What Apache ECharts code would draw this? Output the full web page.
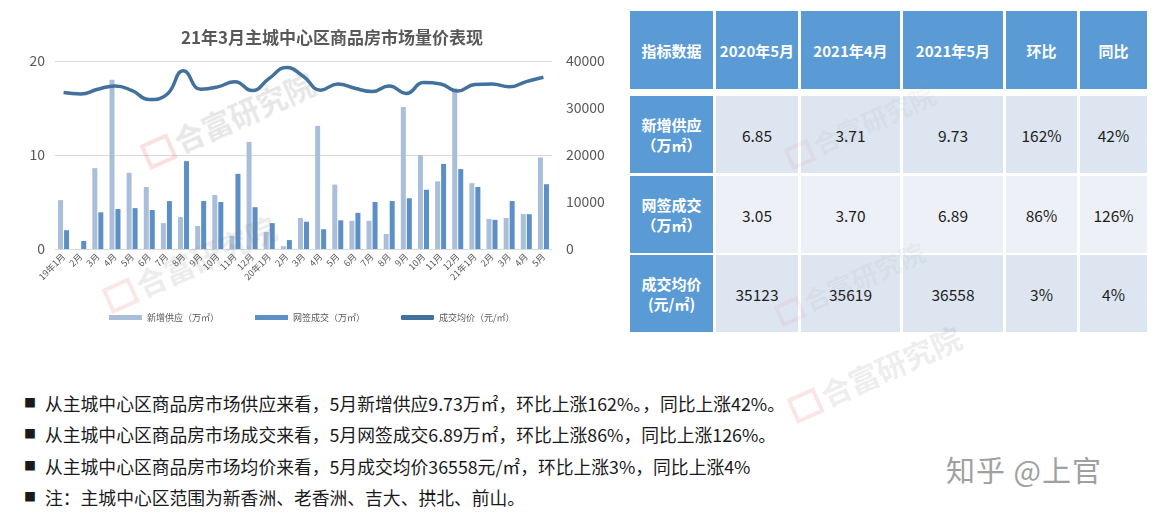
<!DOCTYPE html>
<html><head><meta charset="utf-8">
<script src="https://cdn.jsdelivr.net/npm/echarts@6/dist/echarts.min.js"></script>
<style>
html,body{margin:0;padding:0;background:#fff;width:1157px;height:514px;overflow:hidden;font-family:"Noto Sans CJK SC","Noto Sans",sans-serif;}
#chart{position:absolute;left:0;top:0;width:620px;height:345px;}
#tbl{position:absolute;left:630px;top:11px;}
.cell{position:absolute;display:flex;align-items:center;justify-content:center;text-align:center;box-sizing:border-box;}
.hd{background:#5b9bd5;color:#fff;font-weight:bold;font-size:15px;}
.lb{background:#5b9bd5;color:#fff;font-weight:bold;font-size:15px;line-height:20px;}
.dt{color:#1e1e1e;font-size:15.5px;}
.notes{position:absolute;left:24px;top:389px;font-size:17.8px;color:#1a1a1a;}
.notes div{height:31.3px;line-height:28px;white-space:nowrap;}
.notes span.b{display:inline-block;width:21px;font-size:12px;vertical-align:top;}
.wm{position:absolute;pointer-events:none;white-space:nowrap;transform-origin:center center;font-weight:bold;}
</style></head>
<body>
<div id="chart"></div>
<div id="tbl"></div>
<div class="notes" id="notes"></div>
<div id="wms"></div>
<script>
// ---- chart data ----
const categories = ['19年1月','2月','3月','4月','5月','6月','7月','8月','9月','10月','11月','12月',
  '20年1月','2月','3月','4月','5月','6月','7月','8月','9月','10月','11月','12月',
  '21年1月','2月','3月','4月','5月'];
const supply = [5.2,0,8.6,18.0,8.1,6.6,2.75,3.4,2.45,5.75,1.4,11.4,
  1.8,0.3,3.3,13.1,6.85,3.0,3.0,1.6,15.1,10.0,7.2,17.1,
  7.0,3.2,3.3,3.71,9.73];
const deals = [2.0,0.85,3.9,4.25,4.35,4.15,5.1,9.35,5.1,5.0,8.0,4.45,
  2.75,0.95,2.9,2.1,3.05,3.85,5.0,5.1,5.4,6.3,9.05,8.5,
  6.6,3.1,5.1,3.70,6.89];
const price = [33300,33000,34000,34700,33700,31800,32800,37900,34000,34500,35600,33700,
  36300,38600,36700,33800,35123,34200,33500,34700,33100,35400,35100,33600,
  35000,35100,34500,35619,36558];
const seriesNames = ['新增供应（万㎡）','网签成交（万㎡）','成交均价（元/㎡）'];
const leftTicks = [0,10,20];
const rightTicks = [0,10000,20000,30000,40000];
const chartTitle = '21年3月主城中心区商品房市场量价表现';

// ---- table data ----
const tableHeader = ['指标数据','2020年5月','2021年4月','2021年5月','环比','同比'];
const rowLabels = [['新增供应','（万㎡）'],['网签成交','（万㎡）'],['成交均价','(元/㎡)']];
const tableRows = [
  ['6.85','3.71','9.73','162%','42%'],
  ['3.05','3.70','6.89','86%','126%'],
  ['35123','35619','36558','3%','4%']
];
const notes = [
  '从主城中心区商品房市场供应来看，5月新增供应9.73万㎡，环比上涨162%。，同比上涨42%。',
  '从主城中心区商品房市场成交来看，5月网签成交6.89万㎡，环比上涨86%，同比上涨126%。',
  '从主城中心区商品房市场均价来看，5月成交均价36558元/㎡，环比上涨3%，同比上涨4%',
  '注：主城中心区范围为新香洲、老香洲、吉大、拱北、前山。'
];

// ---- chart ----
const chart = echarts.init(document.getElementById('chart'), null, {renderer:'canvas'});
const axisLabelColor = '#595959';
chart.setOption({
  animation:false,
  textStyle:{fontFamily:'"Noto Sans CJK SC","Noto Sans",sans-serif'},
  title:{text:chartTitle,left:176,top:24,textStyle:{fontSize:17,fontWeight:'bold',color:'#595959'}},
  grid:{left:55,right:68,top:61,bottom:96},
  legend:{left:104,top:308,itemGap:36,itemWidth:33,itemHeight:5,
    textStyle:{fontSize:9,color:axisLabelColor},
    data:[{name:seriesNames[0],icon:'rect'},{name:seriesNames[1],icon:'rect'},{name:seriesNames[2],icon:'roundRect'}]},
  xAxis:{type:'category',data:categories,
    axisLine:{show:false},axisTick:{show:false},
    axisLabel:{interval:0,rotate:45,fontSize:9,color:axisLabelColor,margin:6}},
  yAxis:[
    {type:'value',min:leftTicks[0],max:leftTicks[leftTicks.length-1],interval:10,
      axisLabel:{fontSize:14,color:axisLabelColor,margin:10},
      splitLine:{lineStyle:{color:'#d9d9d9',width:1}},axisLine:{show:false},axisTick:{show:false}},
    {type:'value',min:rightTicks[0],max:rightTicks[rightTicks.length-1],interval:10000,
      axisLabel:{fontSize:14,color:axisLabelColor,margin:14,formatter:v=>String(v)},
      splitLine:{show:false},axisLine:{show:false},axisTick:{show:false}}
  ],
  series:[
    {name:seriesNames[0],type:'bar',data:supply,barWidth:5,barGap:'20%',itemStyle:{color:'#a9bfd9'}},
    {name:seriesNames[1],type:'bar',data:deals,barWidth:5,barGap:'20%',itemStyle:{color:'#5b8fc5'}},
    {name:seriesNames[2],type:'line',yAxisIndex:1,data:price,smooth:0.5,showSymbol:false,symbol:'none',
      lineStyle:{color:'#41719c',width:3.5},itemStyle:{color:'#41719c'},z:5}
  ]
});

// ---- table ----
const colX = [0,86,171,273,376,450];
const colW = [83,82,99,100,71,67];
const rowY = [0,85,165,244];
const rowH = [78,77,77,77];
const dataBg = ['#dde5f0','#edf1f7','#dde5f0'];
let html='';
tableHeader.forEach((t,i)=>{
  html+=`<div class="cell hd" style="left:${colX[i]}px;top:${rowY[0]}px;width:${colW[i]}px;height:${rowH[0]}px">${t}</div>`;
});
rowLabels.forEach((lab,r)=>{
  html+=`<div class="cell lb" style="left:${colX[0]}px;top:${rowY[r+1]}px;width:${colW[0]}px;height:${rowH[r+1]}px">${lab[0]}<br>${lab[1]}</div>`;
  tableRows[r].forEach((v,c)=>{
    html+=`<div class="cell dt" style="left:${colX[c+1]}px;top:${rowY[r+1]}px;width:${colW[c+1]}px;height:${rowH[r+1]}px;background:${dataBg[r]}">${v}</div>`;
  });
});
document.getElementById('tbl').innerHTML=html;

// ---- notes ----
document.getElementById('notes').innerHTML = notes.map(n=>`<div><span class="b">■</span>${n}</div>`).join('');

// ---- watermarks ----
const wmText = '合富研究院';
const wms = [
  {x:228,y:118,s:30,o:0.18},
  {x:190,y:262,s:30,o:0.14},
  {x:875,y:372,s:30,o:0.15},
  {x:860,y:128,s:26,o:0.07},
  {x:850,y:285,s:26,o:0.07}
];
let wh='';
wms.forEach(w=>{
  wh+=`<div class="wm" style="left:${w.x-110}px;top:${w.y-22}px;width:220px;text-align:center;font-size:${w.s}px;color:rgba(120,120,120,${w.o});transform:rotate(-24deg)"><span style="display:inline-block;width:${w.s}px;height:${w.s*0.9}px;border:4px solid rgba(220,90,80,${w.o});box-sizing:border-box;margin-right:4px;vertical-align:-3px"></span>${wmText}</div>`;
});
wh+=`<div class="wm" style="left:946px;top:448px;font-size:29px;color:#a0a0a0;font-weight:normal;letter-spacing:1px">知乎 @上官</div>`;
document.getElementById('wms').innerHTML=wh;
</script>
</body></html>
